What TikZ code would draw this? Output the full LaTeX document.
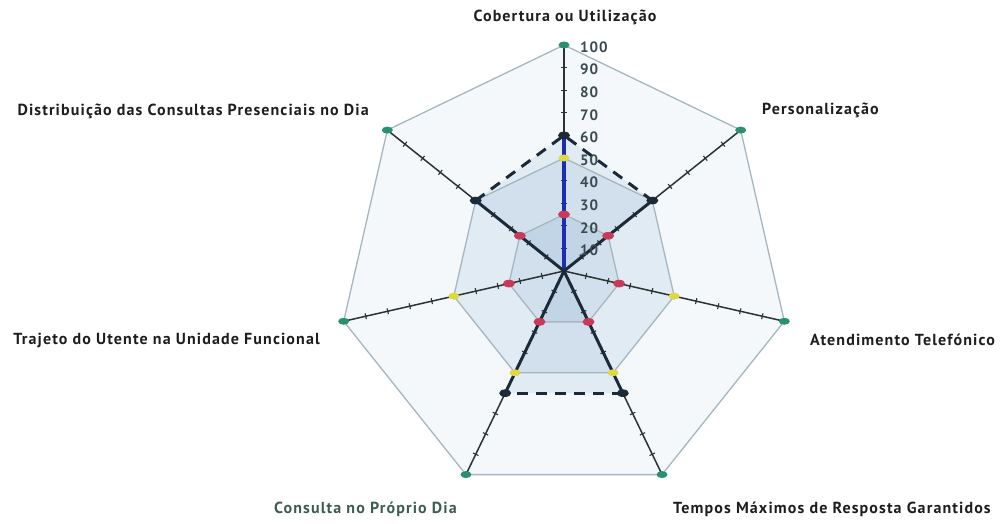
\documentclass[tikz,border=0pt]{standalone}
\usepackage{fontspec}
\setmainfont{PT Sans}
\definecolor{serline}{HTML}{A6B6BE}
\definecolor{axiscol}{HTML}{2B3236}
\definecolor{bluecol}{HTML}{1A2FB0}
\definecolor{mgreen}{HTML}{2A9070}
\definecolor{myellow}{HTML}{E0D840}
\definecolor{mred}{HTML}{C83A5A}
\definecolor{mdark}{HTML}{1C2A38}
\definecolor{fillcol}{HTML}{4682B4}
\definecolor{labcol}{HTML}{1E1E1E}
\definecolor{labgreen}{HTML}{3D5C52}
\definecolor{tickcol}{HTML}{3A4A4E}
\tikzset{
  serfill/.style={fill=fillcol, fill opacity=0.11, draw=none},
  outerfill/.style={fill=fillcol, fill opacity=0.06, draw=none},
  seredge/.style={draw=serline, line width=1.3pt},
  axisline/.style={draw=axiscol, line width=1.5pt},
  ticksty/.style={draw=axiscol, line width=1.1pt},
  dashsty/.style={draw=mdark, line width=3pt, dash pattern=on 11pt off 8pt},
  solidsty/.style={draw=mdark, line width=3pt},
  lab/.style={font=\fontsize{16}{19}\selectfont\bfseries\addfontfeature{LetterSpace=7}, text=labcol, inner sep=0pt},
  ticklab/.style={font=\fontsize{15}{18}\selectfont\bfseries\addfontfeature{LetterSpace=6}, text=tickcol, inner sep=0pt, anchor=west}
}
\newcommand{\setpt}[3]{\coordinate (#1) at ([shift={({90-#2*360/7}:{#3*2.26})}]O);}
\begin{document}
\begin{tikzpicture}[x=1pt,y=1pt]
\useasboundingbox (0,0) rectangle (1002,524);
\coordinate (O) at (564,253);
% series points
\foreach \k in {0,...,6}{
  \setpt{G\k}{\k}{100}
  \setpt{Y\k}{\k}{50}
  \setpt{R\k}{\k}{25}
}
\setpt{D0}{0}{60}
\setpt{D1}{1}{50}
\setpt{D2}{2}{0}
\setpt{D3}{3}{60}
\setpt{D4}{4}{60}
\setpt{D5}{5}{0}
\setpt{D6}{6}{50}
% fills
\path[outerfill] (G0)--(G1)--(G2)--(G3)--(G4)--(G5)--(G6)--cycle;
\path[serfill] (Y0)--(Y1)--(Y2)--(Y3)--(Y4)--(Y5)--(Y6)--cycle;
\path[serfill] (R0)--(R1)--(R2)--(R3)--(R4)--(R5)--(R6)--cycle;
\path[serfill] (D0)--(D1)--(D2)--(D3)--(D4)--(D5)--(D6)--cycle;
% series edges
\draw[seredge] (G0)--(G1)--(G2)--(G3)--(G4)--(G5)--(G6)--cycle;
\draw[seredge] (Y0)--(Y1)--(Y2)--(Y3)--(Y4)--(Y5)--(Y6)--cycle;
\draw[seredge] (R0)--(R1)--(R2)--(R3)--(R4)--(R5)--(R6)--cycle;
% axes with ticks
\foreach \k in {0,...,6}{
  \draw[axisline] (O) -- (G\k);
  \pgfmathsetmacro\ang{90-\k*360/7}
  \foreach \i in {1,...,9}{
    \draw[ticksty] ([shift={(\ang:{\i*22.6})}]O) ++({\ang+90}:3) -- ++({\ang-90}:6);
  }
}
% highlighted axis segment
\draw[draw=bluecol, line width=3.2pt] (O) -- (D0);
% dashed series
\draw[dashsty] (D6) -- (D0) -- (D1);
\draw[dashsty] (D3) -- (D4);
\draw[solidsty] (D1) -- (O) -- (D3);
\draw[solidsty] (D4) -- (O) -- (D6);
% markers
\foreach \k in {0,...,6}{
  \fill[mgreen] (G\k) ellipse (5.5 and 3.5);
  \fill[myellow] (Y\k) ellipse (5.5 and 3.5);
  \fill[mred] (R\k) ellipse (6 and 3.8);
}
\foreach \k in {0,1,3,4,6}{
  \fill[mdark] (D\k) ellipse (6 and 3.8);
}
% tick labels
\foreach \i in {1,...,10}{
  \node[ticklab] at (580,{253+22.6*\i-2}) {\the\numexpr\i*10\relax};
}
% axis labels
\node[lab, anchor=center] (l0) at (565,507) {Cobertura ou Utilização};
\node[lab, anchor=west] (l1) at (762,414) {Personalização};
\node[lab, anchor=west] (l2) at (810,184) {Atendimento Telefónico};
\node[lab, anchor=west] (l3) at (673,15) {Tempos Máximos de Resposta Garantidos};
\node[lab, anchor=east, text=labgreen] (l4) at (457,15) {Consulta no Próprio Dia};
\node[lab, anchor=east] (l5) at (320,184) {Trajeto do Utente na Unidade Funcional};
\node[lab, anchor=east] (l6) at (369,413) {Distribuição das Consultas Presenciais no Dia};
\end{tikzpicture}
\end{document}
